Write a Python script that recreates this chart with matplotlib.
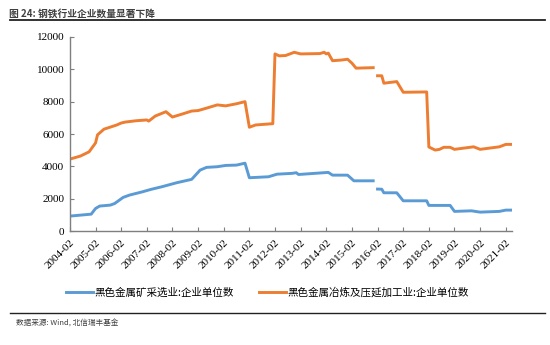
import matplotlib
matplotlib.use('Agg')
import matplotlib.pyplot as plt
import numpy as np
import pandas as pd

plt.rcParams['font.family'] = ['Noto Sans CJK SC', 'DejaVu Sans']

# breakpoints (NaN = gap in the line)
mining_dates = ['2004-02', '2004-12', '2005-02', '2005-04', '2005-09', '2005-11', '2006-03',
                '2006-06', '2006-12', '2007-04', '2007-09', '2008-04', '2008-11', '2009-03',
                '2009-06', '2009-11', '2010-03', '2010-08', '2010-12', '2011-02', '2011-11',
                '2012-03', '2012-10', '2012-12', '2013-01', '2014-03', '2014-05', '2014-12',
                '2015-03', '2015-12', '2016-01', '2016-02', '2016-04', '2016-05', '2016-11',
                '2017-02', '2018-01', '2018-02', '2018-12', '2019-02', '2019-10', '2020-02',
                '2020-11', '2021-02', '2021-05']
mining = [930, 1050, 1400, 1550, 1610, 1710, 2085,
          2230, 2430, 2580, 2740, 2990, 3200, 3770,
          3940, 3980, 4060, 4080, 4200, 3300, 3360,
          3520, 3570, 3610, 3500, 3630, 3460, 3460,
          3110, 3110, np.nan, 2600, 2590, 2370, 2370,
          1875, 1875, 1590, 1590, 1220, 1256, 1175,
          1220, 1300, 1300]

smelt_dates = ['2004-02', '2004-07', '2004-11', '2005-02', '2005-03', '2005-06', '2005-09',
               '2005-12', '2006-02', '2006-04', '2006-09', '2007-02', '2007-03', '2007-06',
               '2007-11', '2008-02', '2008-07', '2008-11', '2009-02', '2009-06', '2009-11',
               '2010-03', '2010-08', '2010-12', '2011-02', '2011-05', '2011-11', '2012-01',
               '2012-02', '2012-04', '2012-07', '2012-09', '2012-11', '2013-02', '2013-11',
               '2014-01', '2014-02', '2014-03', '2014-05', '2014-09', '2014-12', '2015-02',
               '2015-04', '2015-12', '2016-01', '2016-02', '2016-04', '2016-05', '2016-11',
               '2017-02', '2018-01', '2018-02', '2018-05', '2018-07', '2018-09', '2018-12',
               '2019-02', '2019-11', '2020-02', '2020-11', '2021-02', '2021-05']
smelt = [4450, 4640, 4900, 5450, 5950, 6300, 6430,
         6560, 6680, 6740, 6820, 6870, 6800, 7110,
         7380, 7050, 7250, 7420, 7450, 7600, 7800,
         7740, 7870, 8000, 6420, 6560, 6620, 6640,
         10950, 10830, 10850, 10950, 11050, 10950, 10970,
         11050, 10950, 11000, 10530, 10570, 10620, 10380,
         10070, 10100, np.nan, 9600, 9600, 9140, 9240,
         8580, 8600, 5200, 5010, 5050, 5180, 5180,
         5054, 5210, 5054, 5210, 5360, 5360]

tick_labels = [f'{y}-02' for y in range(2004, 2022)]

blue = '#5B9BD5'
orange = '#ED7D31'
axis_gray = '#7f7f7f'

fig = plt.figure(figsize=(5.5, 3.45), dpi=100)
ax = fig.add_axes([0.127, 0.330, 0.804, 0.563])

ax.plot(pd.to_datetime(mining_dates), mining, color=blue, lw=2.1,
        label='黑色金属矿采选业:企业单位数')
ax.plot(pd.to_datetime(smelt_dates), smelt, color=orange, lw=2.1,
        label='黑色金属冶炼及压延加工业:企业单位数')

ax.set_xlim(pd.Timestamp('2004-02-01'), pd.Timestamp('2021-05-01'))
ax.set_ylim(0, 12000)
ax.set_yticks(range(0, 12001, 2000))
ax.set_xticks(pd.to_datetime(tick_labels))
ax.set_xticklabels(tick_labels, rotation=45, ha='right', rotation_mode='anchor',
                   family='Liberation Serif', fontsize=8)
for lab in ax.get_yticklabels():
    lab.set_family('Liberation Serif')
    lab.set_fontsize(8)

for s in ['top', 'right']:
    ax.spines[s].set_visible(False)
for s in ['left', 'bottom']:
    ax.spines[s].set_color(axis_gray)
    ax.spines[s].set_linewidth(1.0)
ax.tick_params(direction='in', length=3, color=axis_gray, width=0.8, pad=4)
ax.tick_params(axis='x', pad=5)

fig.legend(loc='center', bbox_to_anchor=(0.486, 0.153), ncol=2, frameon=False,
           fontsize=7.6, handlelength=2.6, handletextpad=0.1, columnspacing=2.4)

# header / footer
fig.text(0.016, 0.975, '图 24: 钢铁行业企业数量显著下降', fontsize=7, color='#404040',
         fontweight='bold', va='top', ha='left')
fig.add_artist(plt.Line2D([0.018, 0.99], [0.943, 0.943], color='#222222', lw=1.3))
fig.add_artist(plt.Line2D([0.018, 0.99], [0.093, 0.093], color='#222222', lw=1.0))
fig.text(0.03, 0.063, '数据来源: Wind, 北信瑞丰基金', fontsize=5.5, color='#404040',
         va='center', ha='left')

fig.savefig('out.png', dpi=100)
